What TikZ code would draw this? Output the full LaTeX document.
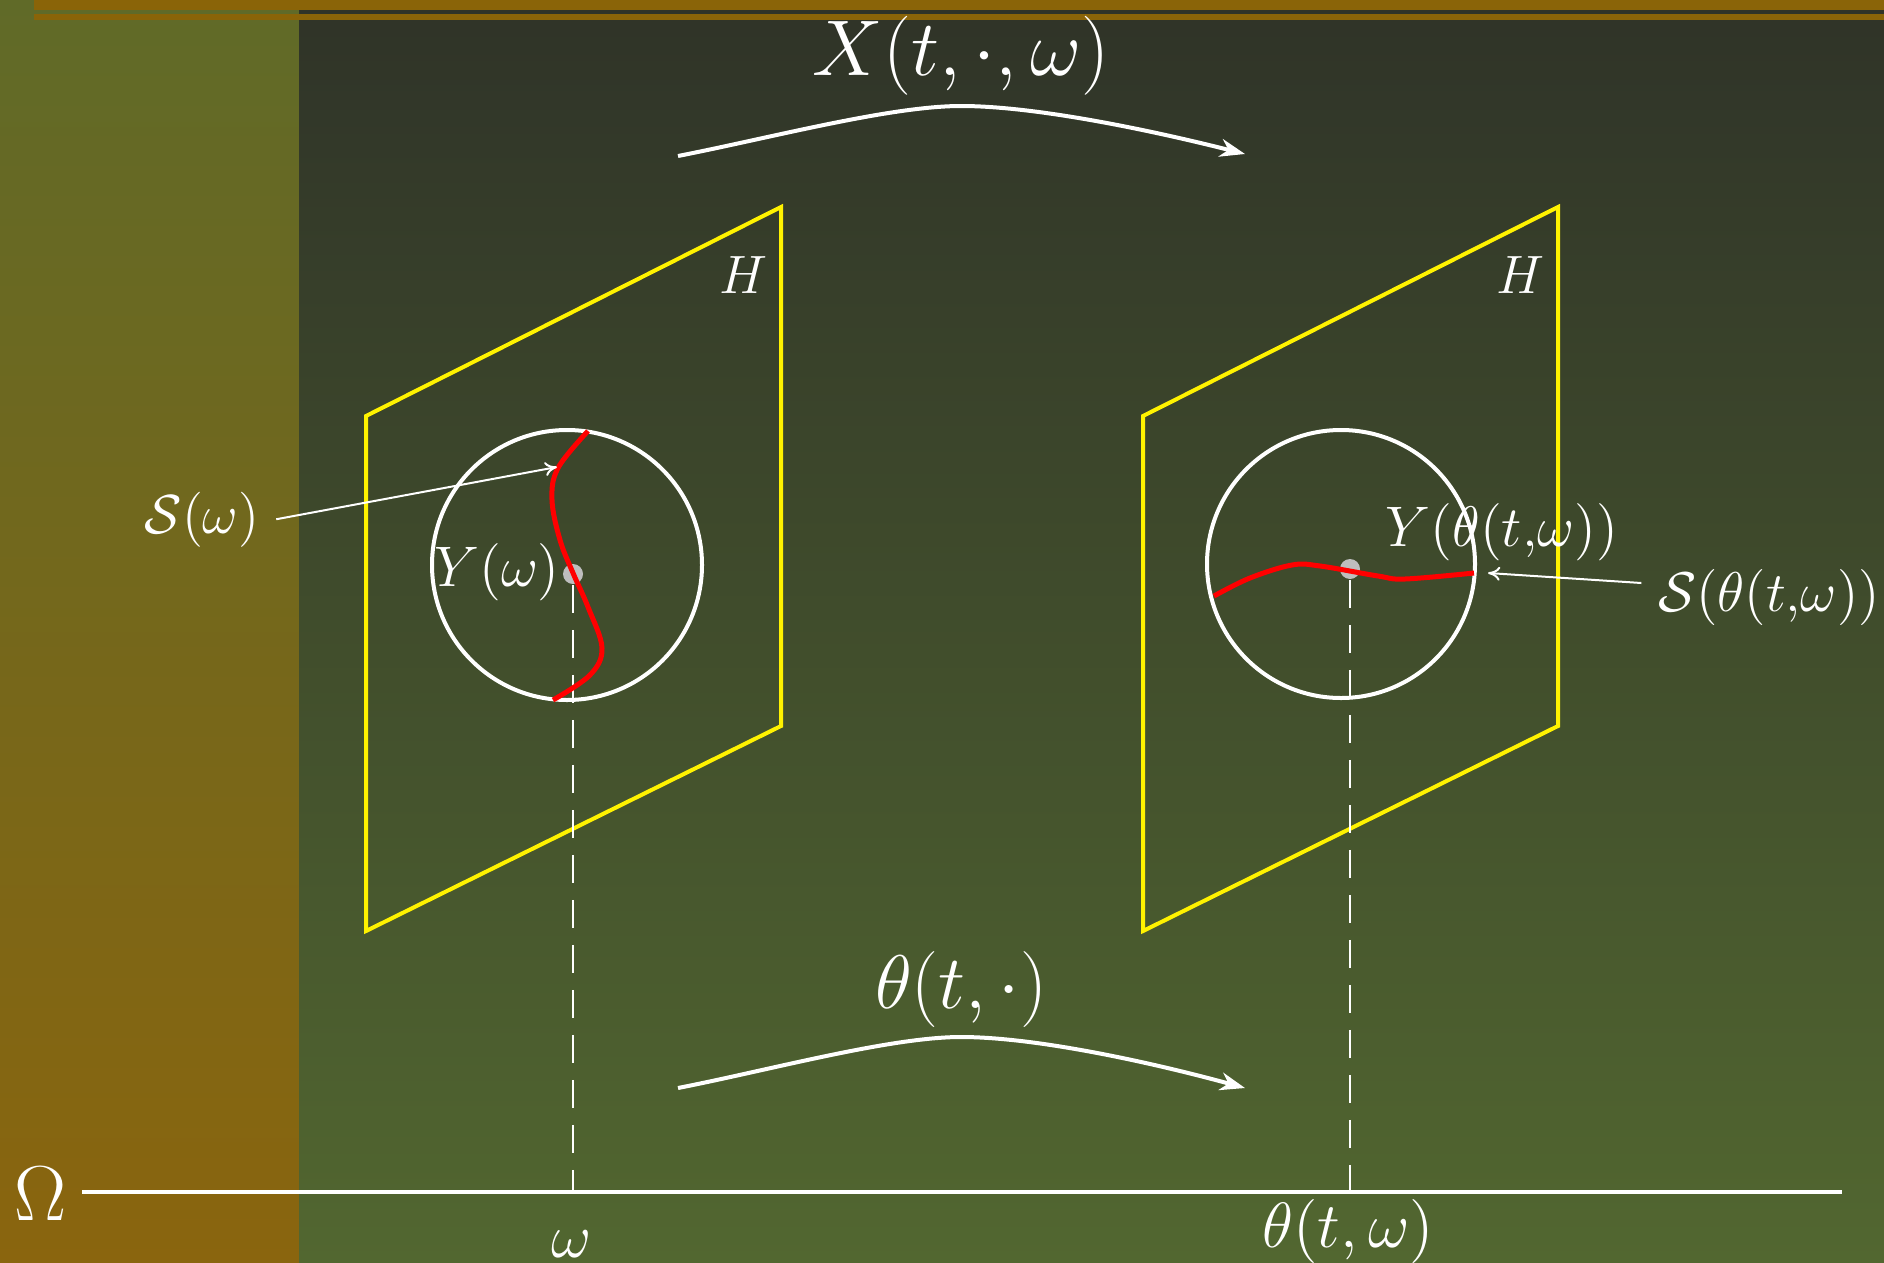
\documentclass[tikz,border=0pt]{standalone}
\usepackage{fix-cm}
\usetikzlibrary{arrows.meta}
\definecolor{bandtop}{RGB}{96,106,40}
\definecolor{bandbot}{RGB}{138,101,14}
\definecolor{maintop}{RGB}{47,51,40}
\definecolor{mainbot}{RGB}{82,103,48}
\definecolor{barorange}{RGB}{138,100,8}
\definecolor{dotgray}{RGB}{190,190,190}
\newcommand\lblsize[1]{\fontsize{#1}{#1}\selectfont}

\begin{document}
\begin{tikzpicture}[x=0.25pt, y=-0.25pt,
        plane/.style={draw=yellow, line width=1pt},
        ball/.style={draw=white, line width=1pt},
        fibre/.style={draw=red, line width=1.25pt},
        proj/.style={draw=white, line width=0.5pt, dash pattern=on 7pt off 4.25pt},
        flow/.style={draw=white, line width=1pt, -{Stealth[length=6.25pt, width=4.5pt, inset=2pt]}},
        pointer/.style={draw=white, line width=0.5pt, -{To[length=3pt, width=3.5pt]}},
        dot/.style={circle, fill=dotgray, minimum size=5pt, inner sep=0pt},
        lbl/.style={text=white, inner sep=4pt, anchor=base}]

    % slide background
    \useasboundingbox (0,0) rectangle (1884,1263);
    \shade [top color=bandtop, bottom color=bandbot] (0,0) rectangle (299,1263);
    \shade [top color=maintop, bottom color=mainbot] (299,0) rectangle (1884,1263);
    \fill [barorange] (34,0) rectangle (1884,9.5);
    \fill [barorange] (34,14) rectangle (1884,20);

    % the two copies of H
    \foreach \dx in {0,777}
        \draw [plane] (366+\dx,416) -- (781+\dx,207) -- (781+\dx,726) -- (366+\dx,931) -- cycle;
    \node [lbl] (hleft) at (743,293) {\lblsize{13.5}$H$};
    \node [lbl] (hright) at (1520,293) {\lblsize{13.5}$H$};

    \draw [ball] (567,565) circle [radius=135];
    \draw [ball] (1341,564) circle [radius=134];

    % base line Omega
    \coordinate (lineL) at (82,1192);
    \coordinate (lineR) at (1842,1192);
    \draw [white, line width=1pt] (lineL) -- (lineR);
    \node [lbl] (Omega) at (41,1220) {\lblsize{19.5}$\Omega$};
    \node [lbl, inner sep=0.5pt] (omega) at (572,1257) {\lblsize{15.5}$\omega$};
    \node [lbl, inner sep=0.5pt] (thetaw) at (1348,1247) {\lblsize{16}$\theta(t,\omega)$};

    \node [dot] (ydot) at (573,574) {};
    \node [dot] (ytdot) at (1350,569) {};
    \draw [proj] (ydot.south) -- (ydot.south |- lineL);
    \draw [proj] (ytdot.south) -- (ytdot.south |- lineL);

    \draw [fibre] plot [smooth, tension=0.6] coordinates {(588,431) (558,468) (552,500) (560,540) (573,573) (588,607) (602,648) (590,675) (553,700)};
    \draw [fibre] plot [smooth, tension=0.6] coordinates {(1214,596) (1250,578) (1292,565) (1320,566) (1378,576) (1405,579) (1474,573)};

    \node [lbl] (yw) at (497,586) {\lblsize{14.3}$Y(\omega)$};
    \node [lbl] (ytw) at (1502,546) {\lblsize{14.3}$Y(\theta(t{,}\omega))$};
    \node [lbl] (somega) at (202,533) {\lblsize{13.75}$\mathcal{S}(\omega)$};
    \node [lbl] (stheta) at (1769,611) {\lblsize{14}$\mathcal{S}(\theta(t{,}\omega))$};

    \coordinate (somegatip) at (557,467);
    \coordinate (sthetatip) at (1488,573);
    \draw [pointer] (somega.east) -- (somegatip);
    \draw [pointer] ([yshift=3.5pt]stheta.west) -- (sthetatip);

    % the flows
    \coordinate (xa) at (678,156);
    \coordinate (xpeak) at (961,106);
    \coordinate (xb) at (1245,154);
    \draw [flow] (xa) .. controls (770,138) and (890,106) .. (xpeak) .. controls (1035,106) and (1150,130) .. (xb);
    \node [lbl] (xlabel) at (961,75) {\lblsize{19.75}$X(t,\cdot,\omega)$};

    \coordinate (ta) at (678,1088);
    \coordinate (tpeak) at (961,1037);
    \coordinate (tb) at (1245,1088);
    \draw [flow] (ta) .. controls (770,1070) and (890,1037) .. (tpeak) .. controls (1035,1037) and (1150,1062) .. (tb);
    \node [lbl] (tlabel) at (961,1008) {\lblsize{19}$\theta(t,\cdot)$};
\end{tikzpicture}
\end{document}
